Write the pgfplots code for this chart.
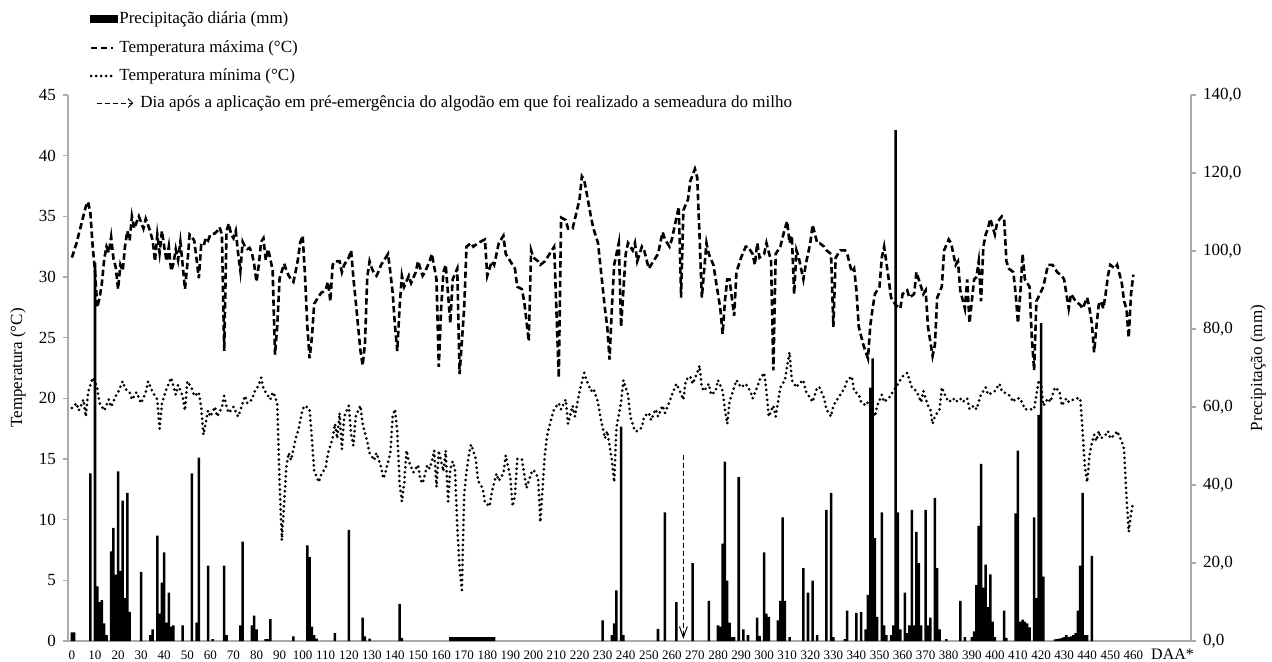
\documentclass[border=0pt]{standalone}
\usepackage{pgfplots}
\pgfplotsset{compat=1.18}
\usepackage{fontspec}
\setmainfont{Liberation Serif}
\usetikzlibrary{arrows.meta}
\definecolor{axgray}{RGB}{170,170,170}

\pgfplotstableread{
x y
0 31.6
2 32.8
4 34.3
6 35.8
7 36.2
8 35.3
9 32.5
10 30.5
11 27.5
12 28.3
13 29.5
14 31.5
15 32.5
16 32
17 33.3
18 31.5
19 30.8
20 29
21 31
22 30.5
23 32.5
24 33.8
25 33
26 35
27 34
28 34.5
29 35
30 34.5
31 34
32 34.8
33 34.3
34 33.7
35 33
36 31.3
37 33.5
38 32
39 33.8
40 32.5
41 31.3
42 32.5
43 30.5
44 31.1
45 32.3
46 31.4
47 32.9
48 31
49 29
50 31
51 33.5
52 33.3
53 33
54 31.5
55 29.9
56 32.6
57 32.5
58 33.2
59 33
60 33.5
62 33.6
63 33.8
64 34.1
65 33.5
66 23.9
67 33.8
68 34.4
69 33.5
70 33.2
71 33.8
72 32
73 30.5
74 32.9
75 32.5
76 32.3
77 32.4
78 32
79 31
80 29.6
81 31
82 32.9
83 33.2
84 31.4
85 32.3
86 31.5
87 30.5
88 23.6
89 26
90 29.9
91 30.5
92 31.1
93 30.5
94 30.1
95 29.8
96 29.6
97 30.5
98 31.5
99 32.9
100 33.4
101 30.2
102 26
103 23.3
104 25
105 27.8
106 28.1
107 28.4
108 28.7
109 28.8
110 29
111 29.6
112 28
113 31
114 31.3
115 31.3
116 31.3
117 30.4
118 31
119 31.3
120 31.6
121 32.2
122 29.9
123 28
124 26
125 24
126 22.7
127 24.5
128 30
129 31.3
130 30.7
131 30.3
132 30.1
133 30.5
134 31
135 31.3
136 31.6
137 31.9
138 30.4
139 28.7
140 26
141 23.9
142 27.5
143 30.1
144 29.2
146 30.1
147 29.5
149 30.4
150 31.3
152 30.1
153 30.4
155 31.3
156 31.9
158 29.8
159 22.6
160 27.4
161 30.4
162 31
164 26.2
165 29.8
167 30.7
168 22
170 27.4
171 32.5
173 32.8
174 32.5
176 32.8
179 33.1
180 30.1
182 31.3
183 31
184 31.9
185 32.8
187 33.4
188 31.9
190 31.3
192 30.7
193 29.2
195 29
196 28
198 24.7
199 32.2
200 31.6
202 31.3
203 31
205 31.3
206 31.6
208 32.2
209 32.5
211 21.7
212 34.9
214 34.7
215 34
217 34
220 36.4
221 38.3
222 38
223 37
225 34.9
226 34
228 32.8
229 31
231 27.4
232 25.9
233 23.2
234 27.4
235 31
237 32.8
238 25.9
240 31.9
241 32.8
243 32.2
244 32.8
245 31.3
247 32.5
248 32.2
250 30.7
251 31
254 31.9
256 33.7
257 33.1
259 32.5
260 33.1
262 34.9
263 35.8
264 28.3
265 35.5
267 36.4
268 37.9
270 38.9
271 38.2
272 33.4
273 28.3
275 32.8
276 31.9
278 31
279 29.8
281 27.4
282 25.3
283 28
284 29.8
285 29.8
287 26.8
288 30.4
290 31.6
292 32.5
293 32.5
295 31.9
296 31
297 32.8
298 31.6
300 31.9
301 32.8
303 31.3
304 22.3
305 31.9
307 32.5
309 34
310 34.6
311 32.8
312 33.4
313 28.6
314 32.2
315 31.6
317 29.8
318 31
320 32.8
321 34.3
323 32.8
324 32.8
326 32.5
327 32.2
329 31.9
330 25.9
331 31.6
333 32.2
335 32.2
336 31.9
338 30.4
339 30.7
340 28.9
341 25.9
343 24.4
345 23.3
346 26
347 27.4
348 28.6
350 29.2
351 31.6
352 32.5
354 29.8
355 28.3
357 27.7
359 27.4
360 28.6
362 28.9
363 28.3
365 28.6
366 30.4
368 29.2
369 28.6
370 28.9
371 25.9
373 23.5
374 24.4
375 28.3
377 29.2
378 32.2
380 33.1
381 32.8
383 31
384 31.3
385 28.9
387 27.4
388 29.8
389 26.2
390 28
391 29.8
392 30
393 31.3
394 28
395 32.5
396 33.5
397 34
398 34.8
400 33.5
401 34.5
403 35
404 34.8
405 31.3
406 30.7
408 30.4
409 28.6
410 26.2
411 28.6
412 31.9
413 29.8
415 29.2
416 25
417 22.3
418 28
421 29.2
423 31
425 31
427 30.4
429 30.1
430 29.8
432 27.4
433 28.6
435 28
437 27.7
438 27.4
440 28.3
441 27.4
442 26.2
443 23.8
444 25.9
445 27.7
446 28
447 27.4
448 28.6
449 30.1
450 31
452 30.7
453 31
455 29.5
456 28
457 27.4
458 25
459 28.6
460 30.2
}\tmax

\pgfplotstableread{
x y
0 19.2
2 19.6
3 19
5 19.9
6 18.5
7 20.5
9 21.7
10 21.4
11 20.8
12 19.6
14 19
16 19.9
17 19.3
19 20.2
20 20.5
22 21.4
23 20.8
25 20.5
26 19.9
28 20.5
30 19.6
32 20.5
33 21.4
35 20.5
37 19.9
38 17.5
39 19.6
41 20.8
43 21.7
44 21
45 20.3
46 21.1
48 20.2
49 19
50 21.4
52 20.8
53 20.2
55 20.5
56 19.3
57 17
59 19
60 18.5
62 19.3
63 18.5
65 19.3
66 20.2
67 19.3
68 18.8
70 19.3
72 18.5
73 19
75 20.2
76 19.6
78 19.9
79 20.5
81 21.1
82 21.7
83 20.8
84 20.5
86 19.9
87 20.5
88 20.2
89 19.5
90 13
91 8.3
92 11.5
93 14.5
94 15.5
95 14.9
97 16.7
98 17.3
100 19.1
101 19.4
103 19.1
104 16.7
105 14
107 13.1
108 13.7
110 14.3
111 15.5
113 16.7
114 17.9
115 16.7
116 18.8
117 15.8
118 18.5
120 19.4
121 17
122 16.1
123 18.5
125 19.4
126 17.9
128 16.4
129 15.5
131 14.9
132 15.5
134 14.3
135 13.4
136 14
138 15.5
139 18.5
140 19.1
141 17.3
142 13
143 11.5
144 13
145 15.7
146 14.8
148 13.9
150 14.5
151 13.3
152 13
154 14.5
155 14.2
156 14.8
157 15.7
158 12.7
159 15.7
160 14.8
161 14
162 15.7
163 11.5
164 14.2
165 14.8
166 14.2
167 9.5
168 6
169 4.2
170 12
171 14
172 15.3
173 16.2
175 15
176 13.2
178 12.6
179 11.4
181 11.1
182 12.3
184 13.8
185 13.2
187 13.8
188 15.3
190 13.5
191 11.1
192 12
193 15
195 15
197 12.6
199 13.8
200 14.1
202 13.5
203 9.8
205 15.5
206 17
208 18.5
209 19.1
211 19.6
212 19.1
214 19.9
215 17.9
217 19.4
218 18.5
220 20.6
222 22.1
223 21.5
225 20.6
226 20.8
228 19.7
229 18.5
231 16.7
232 17.3
234 14.9
235 13.1
236 17.6
238 19.7
239 21.5
241 20.3
242 18.5
244 17.3
245 17.3
247 17.6
248 18.5
250 18.8
251 18.2
253 19.1
254 18.5
256 19.4
257 18.8
259 19.7
260 20.3
262 21.2
263 20.8
265 19.9
266 21.5
268 21.8
269 21.2
271 22.1
272 22.7
273 20.9
274 20.6
276 21.2
277 20.3
279 20.6
280 21.5
282 20.6
283 19.1
284 17.9
285 19.7
287 20.9
288 21.5
290 20.9
292 21.2
294 20.6
295 20
297 20.9
298 21.5
300 22.1
301 20.6
302 18.5
304 19.4
305 18.5
306 19.7
307 20.9
309 21.5
310 22.7
311 23.8
312 21.5
314 20.9
315 21.2
317 21.5
318 20.6
320 20
321 19.7
323 20.9
324 20.9
326 20
327 19.1
329 18.5
330 19.4
332 20
333 20.3
335 20.9
336 21.5
338 21.8
339 20.6
341 20.3
342 19.7
344 19.4
345 19.7
346 19.4
348 18.5
349 19.4
351 20.3
352 19.7
354 20
355 20.3
357 20.9
359 21.5
360 21.8
362 22.1
363 21.5
364 20.9
366 20.6
368 19.7
369 20.6
371 19.4
372 19.1
373 17.9
374 18.5
376 19.1
377 20.9
379 20
380 19.7
382 20
383 19.7
385 20
386 19.7
388 20
389 19.1
391 19.4
392 19.1
394 20.3
396 20.9
397 20.3
400 20.6
402 21.2
403 20.6
406 20.3
408 19.7
409 20
411 20
413 19.1
415 19.1
417 19.1
419 21.5
420 21.2
421 19.4
423 20
424 19.7
426 20.9
428 20.6
429 19.4
431 20
432 19.7
435 20
437 20
438 17.3
439 14.3
440 13.1
441 15.3
442 16.3
443 17
444 16.5
445 17.3
446 16.7
448 17
449 17.3
450 16.7
452 17
453 17.3
455 16.4
456 15.8
457 12
458 9
459 10.5
460 11.5
}\tmin

\pgfplotstableread{
x y
0 2.2
1 2.2
8 43
10 97
11 14
12 10
13 10.5
14 4.5
15 1.5
17 23
18 29
19 17
20 43.5
21 18
22 36
23 11
24 38
25 7.5
30 17.7
34 1.5
35 3
37 27
38 7
39 15
40 22.7
41 4.7
42 12.4
43 3.7
44 4
48 4
52 43
54 4.7
55 47
59 19.3
61 0.5
66 19.3
67 1.5
73 4
74 25.5
78 4
79 6.5
80 3
84 0.5
85 0.5
86 5.6
96 1.2
102 24.5
103 21.5
104 3.7
105 1.5
106 0.6
114 2
120 28.5
126 6
127 1.2
129 0.6
142 9.5
143 0.8
164 1
165 1
166 1
167 1
168 1
169 1
170 1
171 1
172 1
173 1
174 1
175 1
176 1
177 1
178 1
179 1
180 1
181 1
182 1
183 1
230 5.3
234 1.5
235 4.5
236 13
238 55
239 1.5
254 3.1
257 33
262 10
269 20
276 10.3
280 4
281 3.7
282 25
283 46
284 15.5
285 4.7
286 1
287 1
289 42
291 3
293 1.5
297 6
298 1.3
300 22.7
301 7
302 6.2
306 5.3
307 10.3
308 31.7
309 10.3
311 1
317 18.7
319 12.4
321 15.5
323 1.5
327 33.6
329 38
330 1
335 0.5
336 7.8
340 7.2
342 7.5
344 3
345 11.8
346 65
347 72.5
348 26.4
349 6.2
351 33
352 4
353 1.5
355 1.5
356 4
357 131
358 33
359 3
361 12.4
362 2
363 4
364 33.6
365 4
366 28
367 20
368 4
370 33.6
371 4
372 6
374 36.7
375 18.7
376 3
379 0.5
385 10.3
387 1
390 1
391 2.5
392 14.3
393 29.5
394 45.4
395 13.7
396 19.6
397 8.7
398 17.1
399 5
400 1
404 7.8
405 0.8
409 32.7
410 48.8
411 5
412 5.5
413 5
414 4.5
415 3.5
417 31.7
418 11
419 58
420 81.5
421 16.5
426 0.4
427 0.5
428 0.6
429 0.8
430 1
431 1.5
432 1
433 1.2
434 1.5
435 2
436 7.8
437 19.3
438 38
439 1.5
440 1.5
442 21.8
}\prec

\begin{document}
\begin{tikzpicture}
\useasboundingbox (-34pt,-10pt) rectangle (602pt,320.5pt);
\begin{axis}[
  at={(0pt,0pt)}, anchor=south west,
  width=561.5pt, height=273pt, scale only axis,
  xmin=-1.7, xmax=485, ymin=0, ymax=45,
  enlargelimits=false, clip=false,
  axis x line*=bottom, axis y line*=left,
  axis line style={draw=axgray, line width=0.6pt, -},
  /pgf/number format/assume math mode=true,
  ytick={0,5,...,45},
  ytick align=outside, ytick style={draw=axgray, line width=0.6pt},
  major tick length=2.5pt,
  xtick={0,10,...,460},
  xtick style={draw=none},
  xticklabel style={font=\fontsize{6.5}{7}\selectfont, anchor=base, yshift=-9pt},
  yticklabel style={font=\fontsize{8.5}{10}\selectfont},
  ylabel={Temperatura (°C)},
  ylabel style={font=\fontsize{8.5}{10}\selectfont, at={(axis description cs:-0.0445,0.5)}, anchor=center},
]
\addplot[black, line width=1.3pt, dash pattern=on 3.2pt off 1.7pt] table[x=x,y=y] {\tmax};
\addplot[black, line width=1.5pt, line cap=round, dash pattern=on 0pt off 2.5pt] table[x=x,y=y] {\tmin};
\draw[black, line width=0.5pt, dash pattern=on 2.5pt off 1.5pt] (axis cs:265,15.3) -- (axis cs:265,0.4);
\draw[black, line width=0.5pt] (axis cs:263.3,1.2) -- (axis cs:265,0.3) -- (axis cs:266.7,1.2);
\node[anchor=base, font=\fontsize{8}{9}\selectfont, inner sep=0pt] at (axis cs:477,0) [yshift=-9pt] {DAA*};
% legend
\fill[black] (axis description cs:0.0196,1.1319) rectangle (axis description cs:0.0445,1.1465);
\node[anchor=west, inner sep=0pt, font=\fontsize{8.5}{10}\selectfont] at (axis description cs:0.0454,1.1392) {Precipitação diária (mm)};
\draw[black, line width=1.3pt, dash pattern=on 3.2pt off 1.7pt] (axis description cs:0.0205,1.0861) -- (axis description cs:0.0405,1.0861);
\node[anchor=west, inner sep=0pt, font=\fontsize{8.5}{10}\selectfont] at (axis description cs:0.0454,1.0861) {Temperatura máxima (°C)};
\draw[black, line width=1.5pt, line cap=round, dash pattern=on 0pt off 2.5pt] (axis description cs:0.0205,1.0348) -- (axis description cs:0.0405,1.0348);
\node[anchor=west, inner sep=0pt, font=\fontsize{8.5}{10}\selectfont] at (axis description cs:0.0454,1.0348) {Temperatura mínima (°C)};
\draw[black, line width=0.5pt, dash pattern=on 2.5pt off 1.5pt] (axis description cs:0.0258,0.9853) -- (axis description cs:0.057,0.9853);
\draw[black, line width=0.5pt] (axis description cs:0.0535,0.9933) -- (axis description cs:0.0575,0.9853) -- (axis description cs:0.0535,0.9773);
\node[anchor=west, inner sep=0pt, font=\fontsize{8.5}{10}\selectfont] at (axis description cs:0.0641,0.9853) {Dia após a aplicação em pré-emergência do algodão em que foi realizado a semeadura do milho};
\end{axis}
\begin{axis}[
  at={(0pt,0pt)}, anchor=south west,
  width=561.5pt, height=273pt, scale only axis,
  xmin=-1.7, xmax=485, ymin=0, ymax=140,
  enlargelimits=false,
  axis y line*=right, axis x line=none,
  axis line style={draw=axgray, line width=0.6pt, -},
  ytick={0,20,...,140},
  ytick align=outside, ytick style={draw=axgray, line width=0.6pt},
  major tick length=2.5pt,
  /pgf/number format/assume math mode=true,
  yticklabel style={font=\fontsize{8.5}{10}\selectfont, /pgf/number format/.cd, fixed, fixed zerofill, precision=1, use comma},
  ylabel={Precipitação (mm)},
  ylabel style={font=\fontsize{8.5}{10}\selectfont, at={(axis description cs:1.0597,0.5)}, anchor=center},
  ybar, bar width=1.1,
]
\addplot[fill=black, draw=none] table[x=x,y=y] {\prec};
\end{axis}
\end{tikzpicture}
\end{document}
